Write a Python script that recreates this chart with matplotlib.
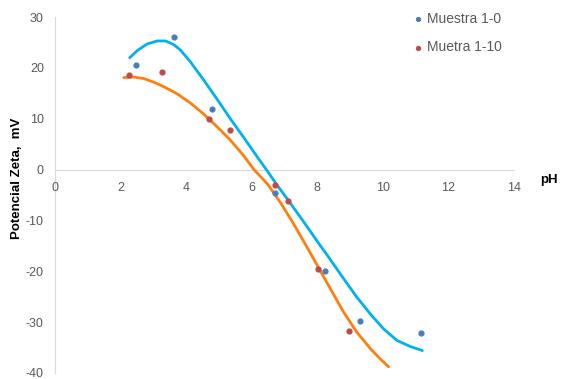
import numpy as np
import matplotlib
matplotlib.use("Agg")
import matplotlib.pyplot as plt

plt.rcParams["axes.unicode_minus"] = False

####################################### Datos #######################################

# puntos medidos
ph_m0 = np.array([2.47, 3.63, 4.79, 6.70, 8.25, 9.31, 11.18])
zeta_m0 = np.array([20.6, 26.1, 11.9, -4.7, -20.0, -29.7, -32.1])

ph_m10 = np.array([2.27, 3.27, 4.70, 5.35, 6.70, 7.11, 8.03, 8.96])
zeta_m10 = np.array([18.7, 19.1, 9.9, 7.8, -3.0, -6.1, -19.5, -31.7])

# lineas suavizadas
curva_m0_x = [2.28, 2.51, 2.81, 3.12, 3.37, 3.62, 3.83, 4.13, 4.54, 4.95, 5.35, 5.76,
              6.16, 6.47, 6.77, 7.18, 7.59, 7.99, 8.40, 8.80, 9.21, 9.62, 10.02,
              10.43, 10.84, 11.21]
curva_m0_y = [22.0, 23.4, 24.7, 25.3, 25.3, 24.6, 23.5, 21.2, 17.6, 13.8, 10.0, 6.3,
              2.6, -0.2, -3.0, -6.6, -10.3, -14.0, -17.7, -21.4, -25.1, -28.4, -31.3,
              -33.6, -34.8, -35.6]

curva_m10_x = [2.10, 2.40, 2.71, 3.01, 3.32, 3.73, 4.13, 4.54, 4.95, 5.35, 5.76, 6.07,
               6.48, 6.89, 7.30, 7.71, 8.12, 8.53, 8.80, 9.21, 9.62, 9.90, 10.18]
curva_m10_y = [18.1, 18.2, 17.9, 17.2, 16.3, 14.9, 13.1, 10.9, 8.4, 5.8, 2.7, 0.0,
               -2.8, -6.6, -10.9, -15.5, -20.2, -24.9, -28.0, -32.0, -35.2, -37.1, -38.8]

x_ticks = [0, 2, 4, 6, 8, 10, 12, 14]
y_ticks = [-40, -30, -20, -10, 0, 10, 20, 30]

####################################### Plot #######################################

fig = plt.figure(figsize=(5.61, 3.79), dpi=100)
ax = fig.add_axes([0.098, 0.016, 0.818, 0.939])

ax.plot(curva_m0_x, curva_m0_y, color="#00B0F0", lw=2.0, zorder=3,
        solid_joinstyle="round", solid_capstyle="round")
ax.plot(curva_m10_x, curva_m10_y, color="#FF7F0E", lw=2.0, zorder=3,
        solid_joinstyle="round", solid_capstyle="round")

ax.scatter(ph_m0, zeta_m0, s=12, color="#4A7EBB", label="Muestra 1-0", zorder=4)
ax.scatter(ph_m10, zeta_m10, s=12, color="#BE4B48", label="Muetra 1-10", zorder=4)

ax.set_xlim(0, 14)
ax.set_ylim(-40, 30)
ax.set_xticks(x_ticks)
ax.set_yticks(y_ticks)

ax.spines["top"].set_visible(False)
ax.spines["right"].set_visible(False)
ax.spines["bottom"].set_position(("data", 0))
ax.spines["bottom"].set_color("#D9D9D9")
ax.spines["left"].set_color("#D9D9D9")
ax.spines["bottom"].set_zorder(1)
ax.spines["left"].set_zorder(1)
ax.tick_params(length=0, colors="#595959", labelsize=9)
ax.tick_params(axis="x", pad=9)
ax.tick_params(axis="y", pad=8)
for lab in ax.get_xticklabels() + ax.get_yticklabels():
    lab.set_family("Liberation Sans")

fig.text(0.978, 0.525, "pH", fontsize=9.5, fontweight="bold", family="Liberation Sans",
         ha="center", va="center")
fig.text(0.030, 0.53, "Potencial Zeta,  mV", fontsize=9.5, fontweight="bold",
         family="Liberation Sans", rotation=90, ha="center", va="center")

leg = ax.legend(loc="upper left", bbox_to_anchor=(0.745, 1.05), frameon=False,
                fontsize=10, handletextpad=0.1, labelspacing=1.05,
                markerscale=0.8, handlelength=1.2)
for t in leg.get_texts():
    t.set_color("#595959")
    t.set_family("Liberation Sans")

plt.savefig("out.png", dpi=100)
